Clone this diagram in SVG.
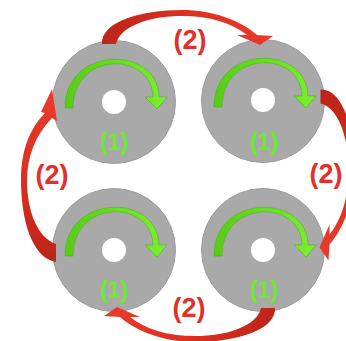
<svg xmlns="http://www.w3.org/2000/svg" width="346" height="341" viewBox="0 0 346 341">
  <defs>
    <style>
      .disc { fill: #a9a9a9; stroke: #9c9c9c; stroke-width: 1; }
      .hole { fill: #ffffff; }
      .spin { fill: url(#greenGrad); stroke: #4cb414; stroke-width: 0.6; }
      .lbl1 { font-family: "Liberation Sans", Arial, sans-serif; font-size: 23px; font-weight: bold; fill: #6cec2a; text-anchor: middle; }
      .lbl2 { font-family: "Liberation Sans", Arial, sans-serif; font-size: 27px; font-weight: bold; fill: #e2302a; text-anchor: middle; }
      .red { stroke: none; }
    </style>
    <linearGradient id="greenGrad" x1="0" y1="0" x2="1" y2="0">
      <stop offset="0" stop-color="#56cc14"/>
      <stop offset="1" stop-color="#7cee34"/>
    </linearGradient>
    <linearGradient id="redH" x1="0" y1="0" x2="1" y2="0">
      <stop offset="0" stop-color="#bc2418"/>
      <stop offset="0.5" stop-color="#dc3020"/>
      <stop offset="1" stop-color="#ea3a2c"/>
    </linearGradient>
    <linearGradient id="redV" x1="0" y1="1" x2="0" y2="0">
      <stop offset="0" stop-color="#bc2418"/>
      <stop offset="0.5" stop-color="#dc3020"/>
      <stop offset="1" stop-color="#ea3a2c"/>
    </linearGradient>
    <path id="spinArrow" d="M-49,6 C-49,-57 44,-57 45,-5 L53,-5 L43,7 L31,-5 L39,-5 C38,-51 -41,-51 -41,6 Z"/>
    <path id="topArrow" d="M102,44 C101,22 140,10 182,10 C212,10 240,20 257,35 L273,36 L260,45 L237,35 L247,35 C232,23 210,16 182,16 C150,16 120,26 116,44 Z"/>
  </defs>

  <g id="disc-tl">
    <circle class="disc" cx="114" cy="102" r="61.5"/>
    <circle class="hole" cx="114" cy="102" r="12"/>
    <use href="#spinArrow" class="spin" transform="translate(114,102)"/>
    <text class="lbl1" x="114" y="150">(1)</text>
  </g>
  <g id="disc-tr">
    <circle class="disc" cx="263" cy="101" r="61.5"/>
    <circle class="hole" cx="263" cy="100" r="12"/>
    <use href="#spinArrow" class="spin" transform="translate(263,101)"/>
    <text class="lbl1" x="264" y="150">(1)</text>
  </g>
  <g id="disc-bl">
    <circle class="disc" cx="114" cy="250" r="61.5"/>
    <circle class="hole" cx="114" cy="250" r="12"/>
    <use href="#spinArrow" class="spin" transform="translate(114,250)"/>
    <text class="lbl1" x="114" y="298">(1)</text>
  </g>
  <g id="disc-br">
    <circle class="disc" cx="263" cy="250" r="61.5"/>
    <circle class="hole" cx="263" cy="250" r="12"/>
    <use href="#spinArrow" class="spin" transform="translate(263,250)"/>
    <text class="lbl1" x="264" y="298">(1)</text>
  </g>

  <g id="connectors">
    <use href="#topArrow" class="red" fill="url(#redH)"/>
    <use href="#topArrow" class="red" fill="url(#redH)" transform="rotate(90 188.5 176)"/>
    <use href="#topArrow" class="red" fill="url(#redH)" transform="rotate(180 188.5 176)"/>
    <path class="red" fill="url(#redV)" d="M56,262 C32,258 21,220 21,180 C21,150 30,128 45,113 L41,112 L52,89 L57,121 L52,118 C35,135 27,158 27,180 C27,212 38,238 56,244 Z"/>
    <text class="lbl2" x="190" y="49">(2)</text>
    <text class="lbl2" x="52" y="184">(2)</text>
    <text class="lbl2" x="326" y="183">(2)</text>
    <text class="lbl2" x="189" y="317">(2)</text>
  </g>
</svg>
